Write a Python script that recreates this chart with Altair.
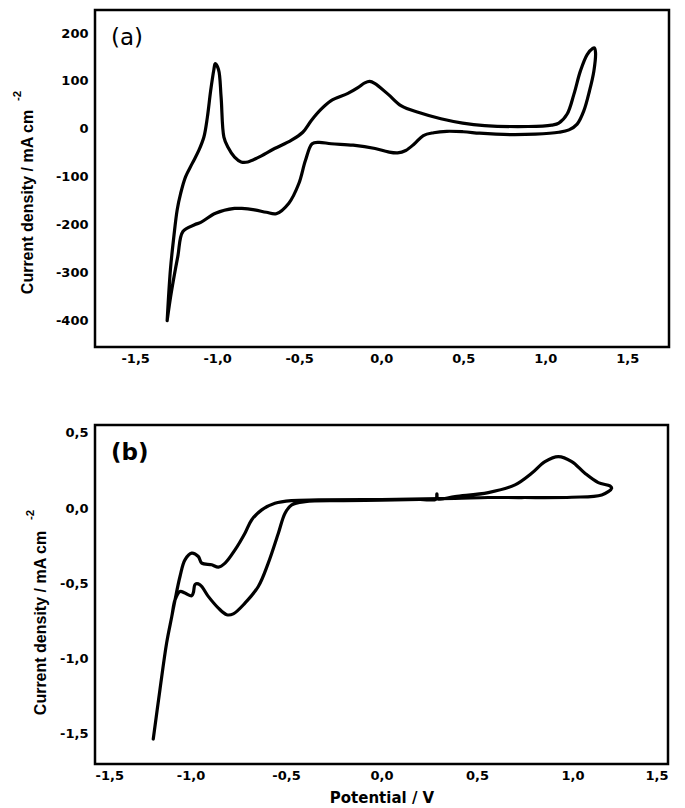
import altair as alt
import pandas as pd

# ---------------- data ----------------
# Panel (a): closed cyclic voltammogram, potential (V) and current density
a_E = [-1.305, -1.285, -1.264, -1.244, -1.223, -1.193, -1.152, -1.112, -1.081, -1.06,
       -1.04, -1.02, -1.012, -0.992, -0.976, -0.959, -0.935, -0.894, -0.854, -0.813,
       -0.752, -0.65, -0.549, -0.478, -0.427, -0.366, -0.305, -0.203, -0.142, -0.10,
       -0.07, -0.04, 0.043, 0.123, 0.23, 0.364, 0.497, 0.631, 0.898, 1.04,
       1.083, 1.134, 1.175, 1.215, 1.256, 1.29, 1.30, 1.307, 1.297, 1.27,
       1.236, 1.195, 1.145, 1.083, 0.94, 0.8, 0.7, 0.6, 0.5, 0.4,
       0.32, 0.257, 0.203, 0.15, 0.10, 0.043, -0.037, -0.171, -0.305, -0.38,
       -0.421, -0.462, -0.502, -0.563, -0.64, -0.70, -0.772, -0.85, -0.894, -1.01,
       -1.1, -1.138, -1.209, -1.24, -1.28, -1.305]
a_j = [-400, -293, -224, -169, -135, -100, -72, -45, -17, 24,
       79, 124, 136, 124, 66, -17, -38, -59, -69, -69,
       -60, -41, -24, -7, 17, 41, 59, 74, 86, 96,
       99, 95, 72, 48, 34, 21, 12, 7, 5, 8,
       12, 31, 72, 121, 155, 168, 169, 159, 121, 79,
       38, 10, -2, -7, -11, -12, -11, -9, -6, -5,
       -8, -14, -31, -45, -50, -48, -41, -34, -31, -28,
       -31, -66, -114, -155, -177, -174, -169, -166, -166, -176,
       -195, -200, -214, -266, -342, -400]

# Panel (b)
b_E = [-1.195, -1.16, -1.125, -1.098, -1.081, -1.055, -1.029, -0.994, -0.985, -0.975,
       -0.95, -0.907, -0.854, -0.81, -0.776, -0.715, -0.645, -0.593, -0.54, -0.505,
       -0.47, -0.40, -0.2, 0.0, 0.2, 0.285, 0.29, 0.295, 0.385, 0.559,
       0.699, 0.786, 0.856, 0.926, 0.996, 1.065, 1.135, 1.196, 1.205, 1.153,
       0.996, 0.734, 0.559, 0.385, 0.0, -0.33, -0.47, -0.558, -0.627, -0.68,
       -0.715, -0.767, -0.819, -0.854, -0.889, -0.941, -0.959, -0.994, -1.029, -1.055,
       -1.081, -1.098, -1.125, -1.16, -1.195]
b_j = [-1.534, -1.206, -0.896, -0.72, -0.609, -0.553, -0.564, -0.582, -0.56, -0.505,
       -0.509, -0.586, -0.664, -0.708, -0.702, -0.631, -0.52, -0.365, -0.166, -0.033,
       0.022, 0.044, 0.05, 0.053, 0.058, 0.06, 0.095, 0.062, 0.078, 0.104,
       0.155, 0.232, 0.31, 0.343, 0.31, 0.232, 0.17, 0.148, 0.133, 0.088,
       0.073, 0.071, 0.071, 0.066, 0.058, 0.055, 0.051, 0.033, -0.011, -0.078,
       -0.166, -0.277, -0.365, -0.392, -0.376, -0.365, -0.321, -0.299, -0.343, -0.454,
       -0.609, -0.72, -0.896, -1.206, -1.534]

x_ticks = [-1.5, -1.0, -0.5, 0.0, 0.5, 1.0, 1.5]
a_y_ticks = [-400, -300, -200, -100, 0, 100, 200]
b_y_ticks = [-1.5, -1.0, -0.5, 0.0, 0.5]

y_title = ["Current density / mA cm"]
y_sup = ["-2"]
x_title = "Potential / V"
panel_labels = ["(a)", "(b)"]

# ---------------- helpers ----------------
dec_expr = "(datum.value < 0 ? '-' : '') + replace(format(abs(datum.value), '.1f'), '.', ',')"
int_expr = "(datum.value < 0 ? '-' : '') + format(abs(datum.value), 'd')"

TICK_FONT = "DejaVu Sans"
TITLE_FONT = "Liberation Sans"


def axis_kw(values, expr, pad):
    return dict(values=values, labelExpr=expr, ticks=False, domain=False, grid=False,
                labelPadding=pad, labelFont=TICK_FONT, labelFontSize=13,
                labelFontWeight="bold", labelColor="black")


def panel(E, J, xdom, ydom, yticks, yexpr, w, h, label, label_bold, tx, sx, ty, sy, with_xtitle):
    df = pd.DataFrame({"E": E, "j": J, "i": list(range(len(E)))})
    if with_xtitle:
        xaxis = alt.Axis(title=x_title, titleFont=TICK_FONT, titleFontSize=15,
                         titleFontWeight="bold", titleColor="black", titlePadding=8,
                         **axis_kw(x_ticks, dec_expr, 5))
    else:
        xaxis = alt.Axis(title=None, **axis_kw(x_ticks, dec_expr, 5))
    line = alt.Chart(df).mark_line(
        color="black", strokeWidth=3.2, interpolate="catmull-rom",
        strokeJoin="round", strokeCap="round"
    ).encode(
        x=alt.X("E:Q", scale=alt.Scale(domain=xdom, nice=False, zero=False), axis=xaxis),
        y=alt.Y("j:Q", scale=alt.Scale(domain=ydom, nice=False, zero=False),
                axis=alt.Axis(title=None, **axis_kw(yticks, yexpr, 7))),
        order="i:Q",
    )
    title_main = alt.Chart(pd.DataFrame({"t": y_title})).mark_text(
        font=TITLE_FONT, fontSize=16, fontWeight="bold", color="black",
        angle=270, align="center", baseline="middle"
    ).encode(x=alt.value(tx), y=alt.value(ty), text="t:N")
    title_sup = alt.Chart(pd.DataFrame({"t": y_sup})).mark_text(
        font=TITLE_FONT, fontSize=11.5, fontWeight="bold", color="black",
        angle=270, align="center", baseline="middle"
    ).encode(x=alt.value(sx), y=alt.value(sy), text="t:N")
    tag = alt.Chart(pd.DataFrame({"t": [label]})).mark_text(
        font=TICK_FONT, fontSize=23, fontWeight="bold" if label_bold else "normal",
        color="black", align="left", baseline="middle"
    ).encode(x=alt.value(16), y=alt.value(28), text="t:N")
    return alt.layer(line, title_main, title_sup, tag).properties(width=w, height=h)


pa = panel(a_E, a_j, [-1.745, 1.755], [-455, 248], a_y_ticks, int_expr, 574, 337,
           panel_labels[0], False, -67, -77, 192, 86, False)
pb = panel(b_E, b_j, [-1.5, 1.5], [-1.7, 0.553], b_y_ticks, dec_expr, 573, 339,
           panel_labels[1], True, -54, -64, 198, 90, True)

chart = alt.vconcat(pa, pb, spacing=56).properties(
    padding={"left": 2, "top": 0, "right": 5, "bottom": 5},
    background="white",
).configure_view(stroke="black", strokeWidth=2.5)

chart.save("out.html", embed_options={"renderer": "svg", "actions": False})
